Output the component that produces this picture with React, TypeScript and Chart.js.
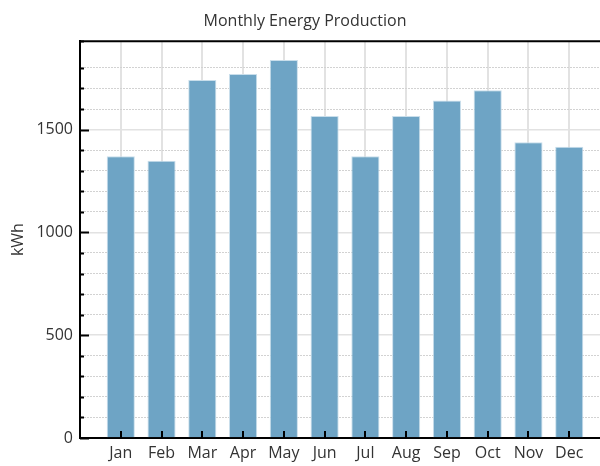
import React, { useEffect, useRef } from "react";
import { Chart, registerables } from "chart.js";

Chart.register(...registerables);

const months = ["Jan", "Feb", "Mar", "Apr", "May", "Jun", "Jul", "Aug", "Sep", "Oct", "Nov", "Dec"];
const production = [1370, 1348, 1741, 1770, 1838, 1566, 1370, 1566, 1642, 1691, 1439, 1417];
const yMax = 1930;
const majorStep = 500;
const minorStep = 100;

const FONT = "'Open Sans', 'Noto Sans', sans-serif";
const TEXT = "#333333";

const innerTicks = {
  id: "innerTicks",
  afterDraw(chart: any) {
    const { ctx, chartArea } = chart;
    const y = chart.scales.y;
    const x = chart.scales.x;
    ctx.save();
    ctx.strokeStyle = "#000";
    ctx.lineWidth = 2;
    ctx.beginPath();
    ctx.moveTo(chartArea.left - 1, chartArea.top);
    ctx.lineTo(chartArea.right, chartArea.top);
    ctx.stroke();
    y.ticks.forEach((t: any) => {
      const py = Math.round(y.getPixelForValue(t.value)) + 0.5;
      const len = t.value % majorStep === 0 ? 9 : 4;
      ctx.beginPath();
      ctx.moveTo(chartArea.left, py);
      ctx.lineTo(chartArea.left + len, py);
      ctx.stroke();
    });
    x.ticks.forEach((t: any, i: number) => {
      if (i === 0 || i === x.ticks.length - 1) return;
      const px = Math.round(x.getPixelForTick(i));
      ctx.beginPath();
      ctx.moveTo(px, chartArea.bottom);
      ctx.lineTo(px, chartArea.bottom - 7);
      ctx.stroke();
    });
    ctx.restore();
  },
};

export default function App() {
  const ref = useRef<HTMLCanvasElement | null>(null);
  useEffect(() => {
    if (!ref.current) return;
    const labels = ["", ...months, ""];
    const data = [null, ...production, null];
    const chart = new Chart(ref.current, {
      type: "bar",
      data: {
        labels,
        datasets: [
          {
            data: data as any,
            backgroundColor: "#6ea4c5",
            borderColor: "#c9deeb",
            borderWidth: 1,
            barPercentage: 0.69,
            categoryPercentage: 1,
          },
        ],
      },
      options: {
        animation: false,
        responsive: false,
        maintainAspectRatio: false,
        layout: { padding: { left: 0, right: 14, top: 0, bottom: 0 } },
        plugins: {
          legend: { display: false },
          tooltip: { enabled: false },
          title: {
            display: true,
            text: "Monthly Energy Production",
            color: TEXT,
            font: { family: FONT, size: 16, weight: "normal" as any },
            padding: { top: 12, bottom: 10 },
          },
        },
        scales: {
          x: {
            type: "category",
            offset: false,
            grid: {
              offset: false,
              drawTicks: false,
              color: (c: any) => (c.index === 0 ? "rgba(0,0,0,0)" : "#e2e2e2"),
              lineWidth: 2,
            },
            border: { display: true, color: "#000", width: 2 },
            ticks: {
              color: TEXT,
              font: { family: FONT, size: 16 },
              padding: 6,
              maxRotation: 0,
              autoSkip: false,
            },
            afterFit: (s: any) => {
              s.height = 28;
            },
          },
          y: {
            min: 0,
            max: yMax,
            grid: {
              drawTicks: false,
              color: (c: any) =>
                c.tick && c.tick.value % majorStep === 0 ? "#e2e2e2" : "#d2d2d2",
              lineWidth: (c: any) => (c.tick && c.tick.value % majorStep === 0 ? 1.5 : 1),
            },
            border: {
              display: true,
              color: "#000",
              width: 2,
              dash: (c: any) =>
                c.tick && c.tick.value % majorStep !== 0 ? [2, 1] : [],
            } as any,
            ticks: {
              stepSize: minorStep,
              color: TEXT,
              font: { family: FONT, size: 16 },
              padding: 7,
              autoSkip: false,
              callback: (v: any) => (Number(v) % majorStep === 0 ? String(v) : ""),
            },
            title: {
              display: true,
              text: "kWh",
              color: TEXT,
              font: { family: FONT, size: 16 },
              padding: { top: 9, bottom: 0 },
            },
            afterFit: (s: any) => {
              s.width = 80;
            },
          },
        },
      },
      plugins: [innerTicks],
    });
    return () => chart.destroy();
  }, []);
  return (
    <div
      style={{
        position: "fixed",
        left: 0,
        top: 0,
        width: 600,
        height: 466,
        overflow: "hidden",
        background: "#fff",
      }}
    >
      <canvas ref={ref} width={624} height={466} style={{ display: "block" }} />
    </div>
  );
}
